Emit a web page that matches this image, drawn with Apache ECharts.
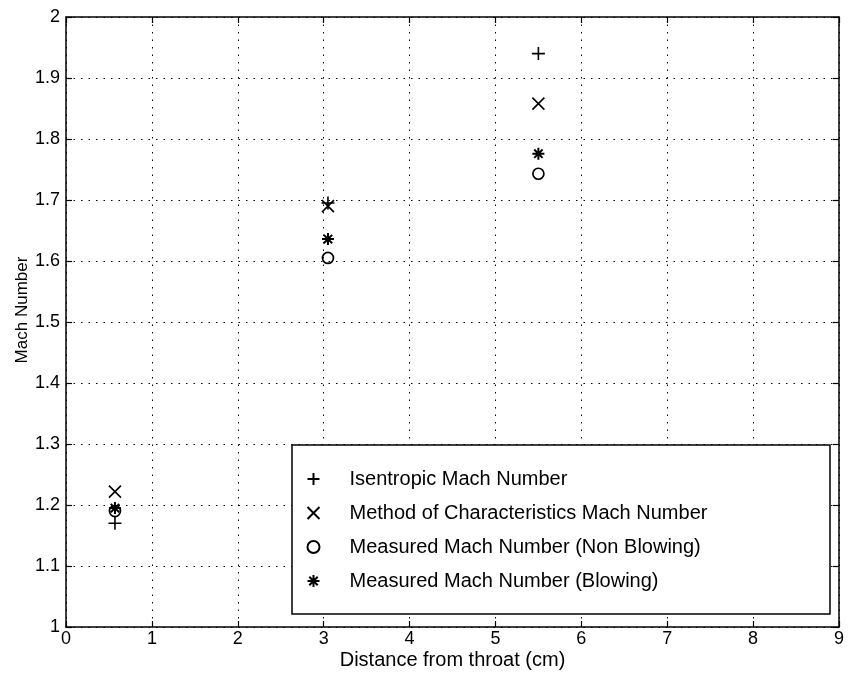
<!DOCTYPE html>
<html><head><meta charset="utf-8">
<script src="https://cdn.jsdelivr.net/npm/echarts@6/dist/echarts.min.js"></script>
<style>html,body{margin:0;padding:0;background:#fff}#c{width:848px;height:677px}</style>
</head><body><div id="c"></div>
<script>
var xPos = [0.57, 3.05, 5.5];
var isentropic = [1.17, 1.695, 1.94];
var moc = [1.222, 1.69, 1.858];
var nonBlowing = [1.19, 1.605, 1.743];
var blowing = [1.195, 1.636, 1.776];
var names = ['Isentropic Mach Number','Method of Characteristics Mach Number','Measured Mach Number (Non Blowing)','Measured Mach Number (Blowing)'];
var xTicks = [0,1,2,3,4,5,6,7,8,9];
var yTicks = [1,1.1,1.2,1.3,1.4,1.5,1.6,1.7,1.8,1.9,2];

var FONT = 'Liberation Sans';
var plusPath = 'path://M5,0L5,10M0,5L10,5';
var xPath = 'path://M0,0L10,10M10,0L0,10';
var starPath = 'path://M5,0L5,10M0,5L10,5M1.5,1.5L8.5,8.5M8.5,1.5L1.5,8.5';
function pts(ys){ return xPos.map(function(x,i){return [x, ys[i]];}); }
function ser(name, ys, sym, size, bw){
  return {type:'scatter', name:name, data:pts(ys), symbol:sym, symbolSize:size, symbolKeepAspect:true,
    itemStyle:{color: sym==='circle' ? 'rgba(0,0,0,0)' : 'none', borderColor:'#000', borderWidth:bw, opacity:1},
    emphasis:{disabled:true}, z:5};
}
var chart = echarts.init(document.getElementById('c'));
chart.setOption({
  animation:false,
  backgroundColor:'#fff',
  textStyle:{fontFamily:FONT},
  grid:{left:66, top:17, right:9, bottom:50, show:false, containLabel:false, outerBoundsMode:'none'},
  graphic:[{type:'rect', shape:{x:292, y:445, width:538, height:169}, style:{fill:'#fff', stroke:'#000', lineWidth:1.5}, z:10}],
  legend:{
    orient:'vertical', left:305, top:469, padding:0, itemGap:14, itemWidth:12, itemHeight:12, z:20,
    data:[{name:names[0]},{name:names[1]},{name:names[2]},{name:names[3]}],
    textStyle:{fontFamily:FONT, fontSize:20, lineHeight:20, color:'#000', padding:[0,0,0,25]},
    selectedMode:false
  },
  xAxis:[{
    type:'value', min:0, max:9, interval:1, position:'bottom',
    name:'Distance from throat (cm)', nameLocation:'middle', nameGap:23, nameMoveOverlap:false,
    nameTextStyle:{fontFamily:FONT, fontSize:20, color:'#000'},
    axisLine:{show:true, onZero:false, lineStyle:{color:'#000', width:1.5}},
    axisTick:{show:true, inside:true, length:6, lineStyle:{color:'#000', width:1.2}},
    axisLabel:{fontFamily:FONT, fontSize:18, color:'#000', margin:3, formatter:function(v){return xTicks.indexOf(v)>=0?String(v):'';}},
    splitLine:{show:true, lineStyle:{color:'#000', type:[1.5,6], width:1}}
  },{
    type:'value', min:0, max:9, interval:1, position:'top',
    axisLine:{show:true, onZero:false, lineStyle:{color:'#000', width:1.5}},
    axisTick:{show:true, inside:true, length:6, lineStyle:{color:'#000', width:1.2}},
    axisLabel:{show:false}, splitLine:{show:false}
  }],
  yAxis:[{
    type:'value', min:1, max:2, interval:0.1, position:'left',
    name:'Mach Number', nameLocation:'middle', nameGap:35, nameMoveOverlap:false,
    nameTextStyle:{fontFamily:FONT, fontSize:17, color:'#000', padding:[0,0,0,24]},
    axisLine:{show:true, onZero:false, lineStyle:{color:'#000', width:1.5}},
    axisTick:{show:true, inside:true, length:6, lineStyle:{color:'#000', width:1.2}},
    axisLabel:{fontFamily:FONT, fontSize:18, color:'#000', margin:6, formatter:function(v){var r=Math.round(v*10)/10; return r===1||r===2?String(r):r.toFixed(1);}},
    splitLine:{show:true, lineStyle:{color:'#000', type:[1.5,6], width:1}}
  },{
    type:'value', min:1, max:2, interval:0.1, position:'right',
    axisLine:{show:true, onZero:false, lineStyle:{color:'#000', width:1.5}},
    axisTick:{show:true, inside:true, length:6, lineStyle:{color:'#000', width:1.2}},
    axisLabel:{show:false}, splitLine:{show:false}
  }],
  series:[
    ser(names[0], isentropic, plusPath, 13, 1.6),
    ser(names[1], moc, xPath, 12, 1.6),
    ser(names[2], nonBlowing, 'circle', 11, 1.7),
    ser(names[3], blowing, starPath, 12, 2)
  ]
});
</script></body></html>
